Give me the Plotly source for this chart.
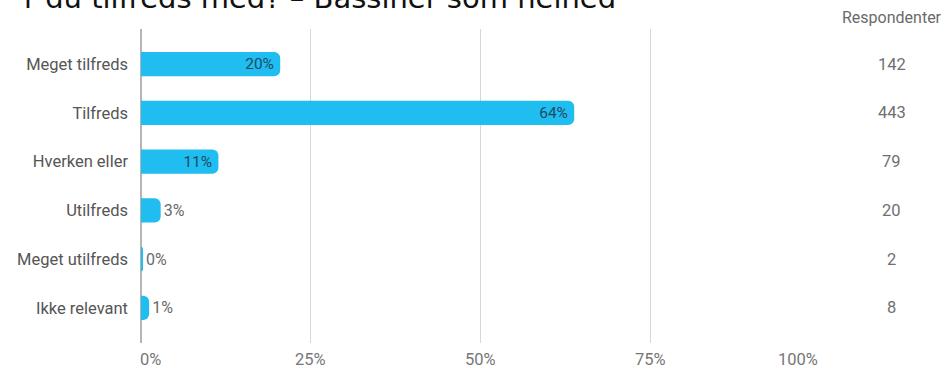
import plotly.graph_objects as go

# Data
categories = ["Meget tilfreds", "Tilfreds", "Hverken eller", "Utilfreds", "Meget utilfreds", "Ikke relevant"]
percent = [20.5, 63.8, 11.4, 2.9, 0.3, 1.2]
percent_labels = ["20%", "64%", "11%", "3%", "0%", "1%"]
respondents = [142, 443, 79, 20, 2, 8]
tick_values = [0, 25, 50, 75, 100]
tick_labels = ["0%", "25%", "50%", "75%", "100%"]

BAR = "#1fbdf0"
GRAY = "#6a6a6a"
FONT = "Roboto"

# inside label for the bars wide enough to hold it
positions = ["inside" if p > 8 else "outside" for p in percent]

fig = go.Figure(go.Bar(
    x=percent,
    y=categories,
    orientation="h",
    width=0.5,
    marker=dict(color=BAR, cornerradius=6, line=dict(width=0)),
    text=percent_labels,
    textposition=positions,
    insidetextanchor="end",
    insidetextfont=dict(family=FONT, size=16, color="#1d4a66"),
    outsidetextfont=dict(family=FONT, size=16, color=GRAY),
    cliponaxis=False,
    hoverinfo="skip",
))

annotations = []

# x tick labels: first left-aligned, last right-aligned
for i, (v, t) in enumerate(zip(tick_values, tick_labels)):
    anchor = "left" if i == 0 else ("right" if i == len(tick_values) - 1 else "center")
    annotations.append(dict(
        x=v, y=0, xref="x", yref="paper", text=t, showarrow=False,
        xanchor=anchor, yanchor="top", yshift=-6, height=16, valign="middle",
        xshift=-3 if i == 0 else 0,
        font=dict(family=FONT, size=16.5, color="#777777"),
    ))

# Respondents column
annotations.append(dict(
    x=1.106, y=1, xref="paper", yref="paper", text="Respondenter", showarrow=False,
    xanchor="center", yanchor="middle", yshift=12,
    font=dict(family=FONT, size=16, color=GRAY),
))
for cat, n in zip(categories, respondents):
    annotations.append(dict(
        x=1.106, y=cat, xref="paper", yref="y", text=str(n), showarrow=False,
        xanchor="center", yanchor="middle",
        font=dict(family=FONT, size=16.5, color="#707070"),
    ))

# Cut-off question title at the very top
annotations.append(dict(
    x=0.7025, y=1, xref="paper", yref="paper",
    text="r du tilfreds med? \u2013 Bassiner som helhed", showarrow=False,
    xanchor="right", yanchor="bottom", yshift=12,
    font=dict(family="DejaVu Sans", size=29, color="#111111"),
))

fig.update_layout(
    width=948, height=368,
    margin=dict(l=141, r=128, t=29, b=25),
    paper_bgcolor="white", plot_bgcolor="white",
    showlegend=False,
    font=dict(family=FONT, size=16, color=GRAY),
    xaxis=dict(
        range=[0, 100], tickvals=tick_values, showticklabels=False,
        showgrid=True, gridcolor="#d6d6d6", gridwidth=1,
        zeroline=True, zerolinecolor="#b5b5b5", zerolinewidth=2,
        showline=False, fixedrange=True, automargin=False,
    ),
    yaxis=dict(
        categoryorder="array", categoryarray=categories,
        range=[5.72, -0.72], showgrid=False, zeroline=False,
        ticks="", ticklabelstandoff=12, automargin=False,
        tickfont=dict(family=FONT, size=16.5, color="#555555"),
        fixedrange=True,
    ),
    annotations=annotations,
)

# drop the default page margin so the figure sits at the window's corner
fig.write_html(
    "out.html",
    config={"displayModeBar": False},
    post_script="document.body.style.margin='0';",
)
